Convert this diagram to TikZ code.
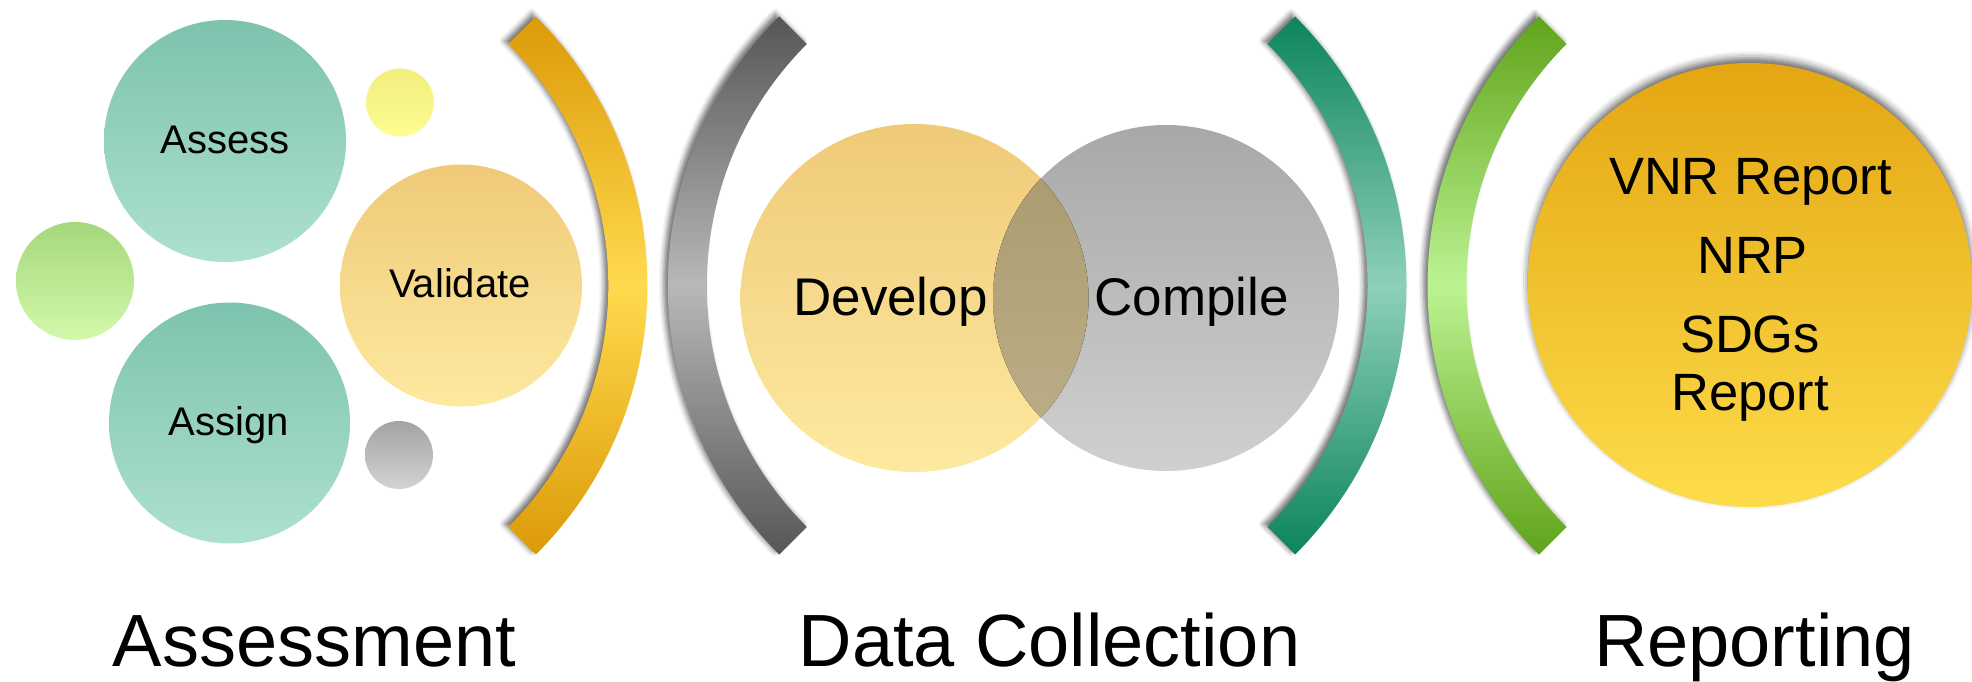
\documentclass[tikz,border=0pt]{standalone}
\usepackage{fontspec}
\setmainfont{Liberation Sans}
\usetikzlibrary{shadows.blur}
\definecolor{yarcD}{HTML}{DC9A08}
\definecolor{yarcL}{HTML}{FFDA4E}
\definecolor{garcD}{HTML}{565656}
\definecolor{garcL}{HTML}{B8B8B8}
\definecolor{tarcD}{HTML}{0C845E}
\definecolor{tarcL}{HTML}{8ED0BA}
\definecolor{larcD}{HTML}{60A41A}
\definecolor{larcL}{HTML}{BCF392}
\definecolor{tealT}{HTML}{7DC3AE}
\definecolor{tealB}{HTML}{ADE0D0}
\definecolor{valT}{HTML}{EFCA78}
\definecolor{valB}{HTML}{FDE9A0}
\definecolor{grnT}{HTML}{A6D77C}
\definecolor{grnB}{HTML}{D2F9AA}
\definecolor{ylwT}{HTML}{F0EE7C}
\definecolor{ylwB}{HTML}{FDFD92}
\definecolor{gryT}{HTML}{A3A3A3}
\definecolor{gryB}{HTML}{D3D3D3}
\definecolor{cmpT}{HTML}{A8A8A8}
\definecolor{cmpB}{HTML}{D0D0D0}
\definecolor{lensT}{HTML}{A8986C}
\definecolor{lensB}{HTML}{BEB08A}
\definecolor{bigT}{HTML}{E4A612}
\definecolor{bigB}{HTML}{FDDC4A}
\pgfdeclareverticalshading{yarcsh}{100bp}{color(0bp)=(yarcD); color(25bp)=(yarcD); color(50bp)=(yarcL); color(75bp)=(yarcD); color(100bp)=(yarcD)}
\pgfdeclareverticalshading{garcsh}{100bp}{color(0bp)=(garcD); color(25bp)=(garcD); color(50bp)=(garcL); color(75bp)=(garcD); color(100bp)=(garcD)}
\pgfdeclareverticalshading{tarcsh}{100bp}{color(0bp)=(tarcD); color(25bp)=(tarcD); color(50bp)=(tarcL); color(75bp)=(tarcD); color(100bp)=(tarcD)}
\pgfdeclareverticalshading{larcsh}{100bp}{color(0bp)=(larcD); color(25bp)=(larcD); color(50bp)=(larcL); color(75bp)=(larcD); color(100bp)=(larcD)}
\begin{document}
\begin{tikzpicture}[x=1pt,y=-1pt,
  lbl/.style={anchor=base, inner sep=0pt, font=\fontsize{74}{80}\selectfont},
  midtxt/.style={anchor=base, inner sep=0pt, font=\fontsize{53}{60}\selectfont},
  bigtxt/.style={anchor=base, inner sep=0pt, font=\fontsize{52.5}{60}\selectfont},
  smltxt/.style={anchor=base, inner sep=0pt, font=\fontsize{40}{48}\selectfont},
  bubble/.style={circle, inner sep=0pt, minimum size=#1},
  arcshadow/.style={blur shadow={shadow xshift=-4pt, shadow yshift=3pt, shadow blur radius=5pt, shadow opacity=55}},
]
\useasboundingbox (0,0) rectangle (1972,682);

% ---- Assessment group
\node[bubble=242pt, top color=tealT, bottom color=tealB] (assessC) at (225,141) {};
\node[bubble=241pt, top color=tealT, bottom color=tealB] (assignC) at (229.5,423) {};
\node[bubble=242pt, top color=valT, bottom color=valB] (validateC) at (461,285.5) {};
\node[bubble=118pt, top color=grnT, bottom color=grnB] (greenC) at (75,281) {};
\node[bubble=68pt, top color=ylwT, bottom color=ylwB] (yellowC) at (400,102.5) {};
\node[bubble=68pt, top color=gryT, bottom color=gryB] (grayC) at (399,455) {};

% ---- arcs
\coordinate (yc) at (266.8,285.5);
\path[shade, shading=yarcsh, arcshadow] ([shift={(-45:380.5)}]yc) arc[start angle=-45, end angle=45, radius=380.5] -- ([shift={(45:341.5)}]yc) arc[start angle=45, end angle=-45, radius=341.5] -- cycle;
\coordinate (gc) at (1048.3,285.5);
\path[shade, shading=garcsh, arcshadow] ([shift={(135:380.5)}]gc) arc[start angle=135, end angle=225, radius=380.5] -- ([shift={(225:341.5)}]gc) arc[start angle=225, end angle=135, radius=341.5] -- cycle;
\coordinate (tc) at (1026,285.5);
\path[shade, shading=tarcsh, arcshadow] ([shift={(-45:380.5)}]tc) arc[start angle=-45, end angle=45, radius=380.5] -- ([shift={(45:341.5)}]tc) arc[start angle=45, end angle=-45, radius=341.5] -- cycle;
\coordinate (lc) at (1808,285.5);
\path[shade, shading=larcsh, arcshadow] ([shift={(135:380.5)}]lc) arc[start angle=135, end angle=225, radius=380.5] -- ([shift={(225:341.5)}]lc) arc[start angle=225, end angle=135, radius=341.5] -- cycle;

% ---- Data collection group
\node[bubble=348pt, top color=valT, bottom color=valB] (developC) at (914.5,298) {};
\node[bubble=346pt, top color=cmpT, bottom color=cmpB] (compileC) at (1166,298) {};
\begin{scope}
  \clip (developC.center) circle[radius=174];
  \fill[top color=lensT, bottom color=lensB] (compileC.center) circle[radius=173];
\end{scope}

% ---- Reporting group
\node[bubble=444pt, top color=bigT, bottom color=bigB,
  blur shadow={shadow xshift=0pt, shadow yshift=5pt, shadow blur radius=7pt, shadow opacity=60}] (reportC) at (1750,285) {};

% ---- texts
\node[smltxt] (assessT) at (225,153.6) {Assess};
\node[smltxt] (validateT) at (460,297.5) {Validate};
\node[smltxt] (assignT) at (229,435.7) {Assign};
\node[midtxt] (developT) at (890.5,315.3) {Develop};
\node[midtxt] (compileT) at (1191.5,315.3) {Compile};
\node[bigtxt] (vnrT) at (1750.5,194.6) {VNR Report};
\node[bigtxt] (nrpT) at (1752.5,273) {NRP};
\node[bigtxt] (sdgT) at (1750,352.8) {SDGs};
\node[bigtxt] (repT) at (1750,410.7) {Report};

\node[lbl] (assessmentL) at (314.5,666) {Assessment};
\node[lbl] (dataL) at (1049.5,666) {Data Collection};
\node[lbl] (reportingL) at (1754.5,666) {Reporting};
\end{tikzpicture}
\end{document}
